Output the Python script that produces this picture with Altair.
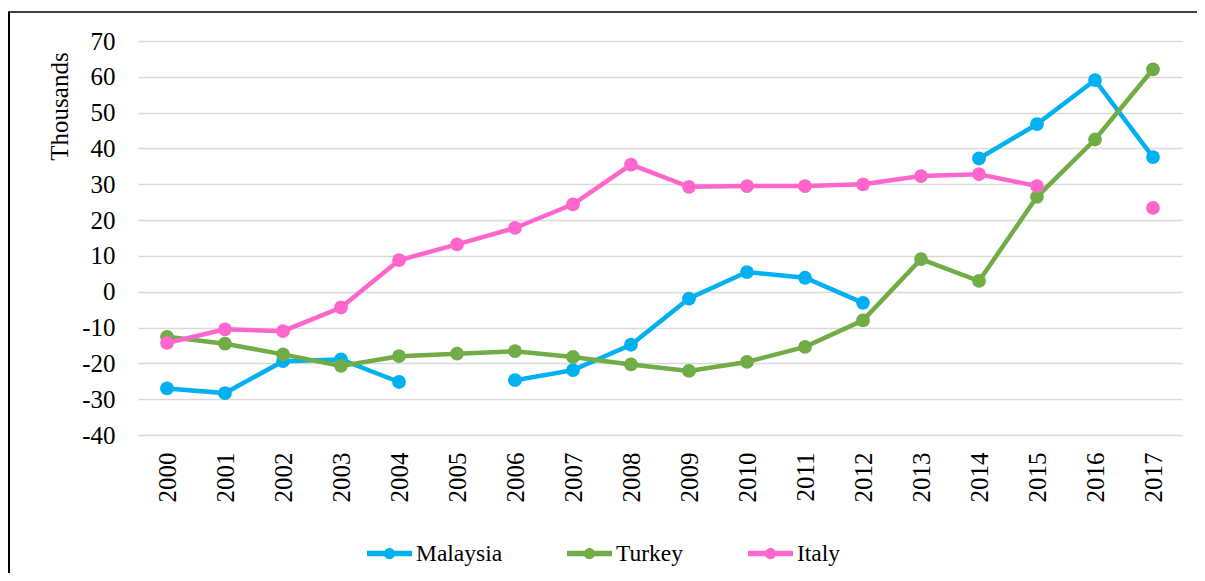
import altair as alt
import pandas as pd

years = [str(y) for y in range(2000, 2018)]
malaysia = [-27.0, -28.3, -19.4, -18.9, -25.2, None, -24.7, -21.9, -14.8, -1.9,
            5.5, 3.9, -3.1, None, 37.2, 46.8, 59.1, 37.6]
turkey = [-12.6, -14.5, -17.5, -20.7, -18.0, -17.3, -16.6, -18.2, -20.3, -22.1,
          -19.6, -15.4, -8.0, 9.1, 3.0, 26.5, 42.5, 62.1]
italy = [-14.3, -10.5, -11.0, -4.4, 8.8, 13.2, 17.8, 24.4, 35.5, 29.3,
         29.5, 29.5, 30.0, 32.3, 32.8, 29.5, None, 23.4]
countries = ["Malaysia", "Turkey", "Italy"]
colors = ["#00B0F0", "#70AD47", "#FF66CC"]
y_ticks = list(range(-40, 71, 10))

rows = []
for name, vals in zip(countries, [malaysia, turkey, italy]):
    for yr, v in zip(years, vals):
        rows.append({"year": yr, "country": name, "value": v})
df = pd.DataFrame(rows)

FONT = "Liberation Serif"
PLOT_W, PLOT_H = 1044, 394
PAD_L, PAD_T, PAD_R, PAD_B = 130, 33, 15, 138

legend_symbol = ("M-1,-0.12 H1 V0.12 H-1 Z "
                 "M0.25,0 A0.25,0.25 0 1,1 -0.25,0 A0.25,0.25 0 1,1 0.25,0 Z")

color = alt.Color(
    "country:N",
    scale=alt.Scale(domain=countries, range=colors),
    sort=countries,
    legend=alt.Legend(
        title=None,
        orient="none",
        direction="horizontal",
        legendX=229,
        legendY=490,
        symbolType=legend_symbol,
        symbolSize=2025,
        symbolStrokeWidth=0,
        symbolOpacity=1,
        labelFont=FONT,
        labelFontSize=23.5,
        labelColor="#000000",
        labelOffset=4,
        columnPadding=64,
        labelLimit=300,
    ),
)

x = alt.X(
    "year:O",
    sort=years,
    scale=alt.Scale(domain=years, paddingInner=0, paddingOuter=0),
    axis=alt.Axis(
        title=None, labelAngle=270, labelFont=FONT, labelFontSize=25,
        labelColor="#000000", ticks=False, domain=False, labelPadding=17,
        grid=False,
    ),
)
y = alt.Y(
    "value:Q",
    scale=alt.Scale(domain=[-40, 70], nice=False, zero=False),
    axis=alt.Axis(
        title="Thousands", values=y_ticks, labelExpr="'' + datum.value",
        labelFont=FONT, labelFontSize=25,
        labelColor="#000000", ticks=False, domain=False, labelPadding=23,
        gridColor="#D9D9D9", gridWidth=1.5,
        titleFont=FONT, titleFontSize=25, titleFontWeight="normal",
        titleColor="#000000", titleAngle=270, titleX=-71, titleY=65,
        titleAlign="center", titleBaseline="alphabetic",
    ),
)

base = alt.Chart(df)
lines = base.mark_line(strokeWidth=4.5).encode(x=x, y=y, color=color)
points = base.mark_point(filled=True, size=190, opacity=1).encode(x=x, y=y, color=color)

frame_df = pd.DataFrame({"k": [0]})
left_line = alt.Chart(frame_df).mark_rule(color="#000000", strokeWidth=2).encode(
    x=alt.value(-129), y=alt.value(-29), y2=alt.value(PLOT_H + PAD_B))
top_line = alt.Chart(frame_df).mark_rule(color="#000000", strokeWidth=1.5).encode(
    x=alt.value(-130), x2=alt.value(PLOT_W + PAD_R), y=alt.value(-29))

chart = alt.layer(lines, points, left_line, top_line).properties(
    width=PLOT_W,
    height=PLOT_H,
    autosize=alt.AutoSizeParams(type="none"),
    padding={"left": PAD_L, "top": PAD_T, "right": PAD_R, "bottom": PAD_B},
).configure(
    background="#FFFFFF",
    view=alt.ViewConfig(stroke="transparent", strokeWidth=0),
)

chart.save("out.html", embed_options={"renderer": "svg", "actions": False})
